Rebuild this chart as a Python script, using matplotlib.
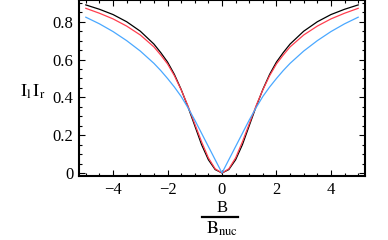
import matplotlib
matplotlib.use("Agg")
import matplotlib.pyplot as plt
from matplotlib.ticker import MultipleLocator, FixedLocator
from matplotlib.lines import Line2D

# B / B_nuc sample points
b_vals = [-5.0, -4.5, -4.0, -3.5, -3.0, -2.5, -2.25, -2.0, -1.75, -1.5, -1.25, -1.0, -0.75, -0.5, -0.25,
          0.0, 0.25, 0.5, 0.75, 1.0, 1.25, 1.5, 1.75, 2.0, 2.25, 2.5, 3.0, 3.5, 4.0, 4.5, 5.0]

black_vals = [0.889, 0.866, 0.838, 0.800, 0.750, 0.682, 0.637, 0.587, 0.522, 0.442, 0.350, 0.250, 0.150, 0.070, 0.018,
              0.0, 0.018, 0.070, 0.150, 0.250, 0.350, 0.442, 0.522, 0.587, 0.637, 0.682, 0.750, 0.800, 0.838, 0.866, 0.889]

red_vals = [0.871, 0.845, 0.815, 0.777, 0.730, 0.667, 0.624, 0.577, 0.515, 0.440, 0.355, 0.260, 0.165, 0.080, 0.022,
            0.0, 0.022, 0.080, 0.165, 0.260, 0.355, 0.440, 0.515, 0.577, 0.624, 0.667, 0.730, 0.777, 0.815, 0.845, 0.871]

blue_vals = [0.824, 0.789, 0.748, 0.700, 0.645, 0.580, 0.542, 0.500, 0.455, 0.405, 0.345, 0.280, 0.210, 0.140, 0.070,
             0.0, 0.070, 0.140, 0.210, 0.280, 0.345, 0.405, 0.455, 0.500, 0.542, 0.580, 0.645, 0.700, 0.748, 0.789, 0.824]

plt.rcParams['font.family'] = ['Liberation Serif', 'DejaVu Serif']
plt.rcParams['mathtext.fontset'] = 'stix'

fig = plt.figure(figsize=(3.88, 2.4), dpi=100)
ax = fig.add_axes([79 / 388, 1 - 176 / 240, (365 - 79) / 388, 176 / 240])

ax.plot(b_vals, black_vals, color='black', lw=0.9)
ax.plot(b_vals, red_vals, color='#ff3f4f', lw=0.9)
ax.plot(b_vals, blue_vals, color='#4aa8ff', lw=0.9)

ax.set_xlim(-5.25, 5.25)
ax.set_ylim(-0.016, 0.915)

ax.xaxis.set_major_locator(FixedLocator([-4, -2, 0, 2, 4]))
ax.xaxis.set_minor_locator(MultipleLocator(0.5))
ax.yaxis.set_major_locator(FixedLocator([0, 0.2, 0.4, 0.6, 0.8]))
ax.yaxis.set_minor_locator(MultipleLocator(0.05))
ax.set_xticklabels(['\u22124', '\u22122', '0', '2', '4'])
ax.set_yticklabels(['0', '0.2', '0.4', '0.6', '0.8'])

ax.tick_params(which='both', direction='in', top=True, right=True, labelsize=12, width=0.8)
ax.tick_params(which='major', length=4, pad=4)
ax.tick_params(which='minor', length=2)
for s in ax.spines.values():
    s.set_linewidth(1.5)

# y label
fig.text(33 / 388, 1 - 92 / 240, r'$\mathrm{I_l\, I_r}$', fontsize=13, ha='center', va='center')

# x label as a fraction
fig.text(222 / 388, 1 - 208 / 240, 'B', fontsize=12, ha='center', va='center')
fig.add_artist(Line2D([202 / 388, 238 / 388], [1 - 217 / 240, 1 - 217 / 240], color='black', lw=1.6))
fig.text(222 / 388, 1 - 229 / 240, r'$\mathrm{B_{nuc}}$', fontsize=13, ha='center', va='center')

fig.savefig('out.png', dpi=100)
